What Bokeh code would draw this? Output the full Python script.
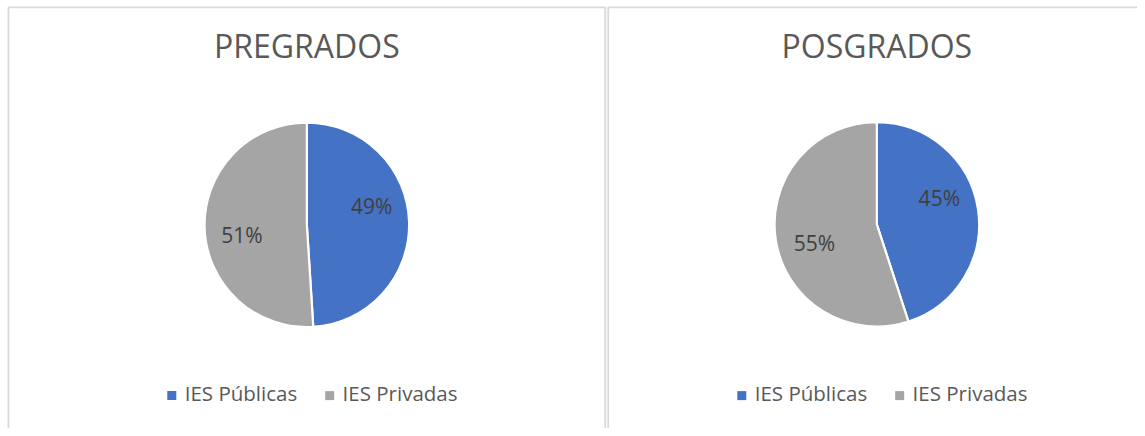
import math
from bokeh.plotting import figure
from bokeh.models import Range1d, ColumnDataSource
from bokeh.core.properties import value
from bokeh.embed import file_html
from bokeh.resources import INLINE

# ---- data ----
categories = ["IES Públicas", "IES Privadas"]
titles = ["PREGRADOS", "POSGRADOS"]
pregrados = [49, 51]
posgrados = [45, 55]
series = [pregrados, posgrados]

# ---- style ----
colors = ["#4472C4", "#A5A5A5"]
FONT = value("Open Sans")
W, H = 1137, 428

p = figure(width=W, height=H, output_backend="svg", toolbar_location=None,
           x_range=Range1d(0, 1145), y_range=Range1d(436, 0),
           min_border=0, outline_line_color=None)
p.axis.visible = False
p.grid.visible = False
p.background_fill_color = "white"
p.border_fill_color = "white"

# panel frames (left, top, right edges)
border = "#d9d9d9"
p.line([8, 8, 609, 609], [437, 7, 7, 437], line_color=border, line_width=1.8)
p.line([612, 612, 1150], [437, 7, 7], line_color=border, line_width=1.8)

centers = [(308.5, 228.5), (882.5, 228.0)]
R = 103

for (cx, cy), title, vals in zip(centers, titles, series):
    total = float(sum(vals))
    starts, ends, lx, ly, txt = [], [], [], [], []
    cum = 0.0
    for v in vals:
        a0 = math.pi / 2 - 2 * math.pi * cum / total
        cum += v
        a1 = math.pi / 2 - 2 * math.pi * cum / total
        starts.append(a0)
        ends.append(a1)
        mid = (a0 + a1) / 2 + math.radians(11)
        lx.append(cx + 0.65 * R * math.cos(mid))
        ly.append(cy - 0.65 * R * math.sin(mid) - 4)
        txt.append(f"{v}%")
    src = ColumnDataSource(dict(x=[cx] * len(vals), y=[cy] * len(vals),
                                s=starts, e=ends, c=colors[:len(vals)]))
    p.wedge(x="x", y="y", radius=R, start_angle="s", end_angle="e",
            direction="clock", fill_color="c", line_color="white", line_width=2.2, source=src)
    p.text(x=lx, y=ly, text=txt, text_font=FONT, text_font_size="21px",
           text_color="#404040", text_align="center", text_baseline="middle")
    # title
    p.text(x=[cx], y=[45.5], text=[title], text_font=FONT, text_font_size="32px",
           text_color="#595959", text_align="center", text_baseline="alphabetic")
    # legend
    sq_x = [cx - 136, cx + 23]
    tx_x = [cx - 123, cx + 36]
    p.scatter(x=sq_x, y=[402.5] * 2, marker="square", size=9,
              fill_color=colors, line_color=None)
    p.text(x=tx_x, y=[399.5] * 2, text=categories, text_font=FONT, text_font_size="20.5px",
           text_color="#595959", text_align="left", text_baseline="alphabetic")

open("out.html", "w").write(file_html(p, INLINE))
